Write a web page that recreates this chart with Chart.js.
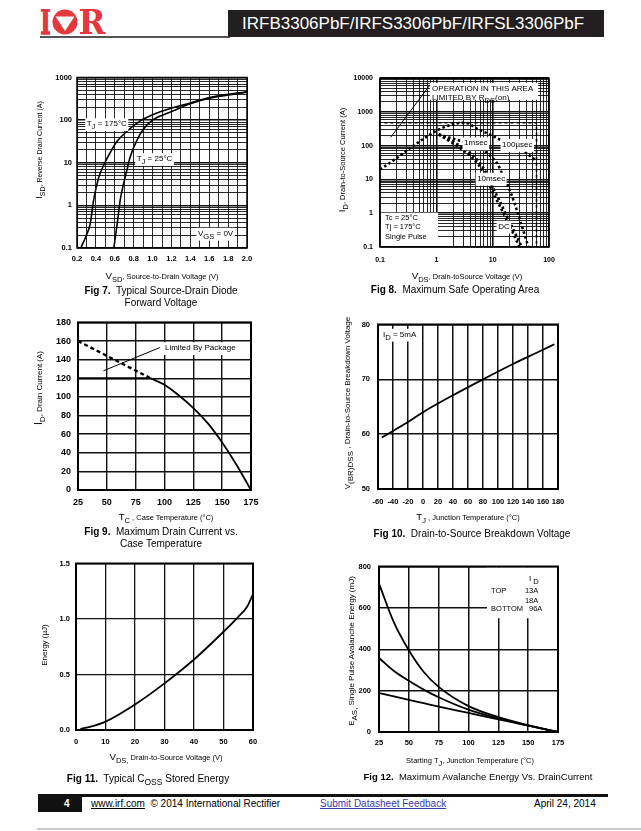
<!DOCTYPE html>
<html>
<head>
<meta charset="utf-8">
<script src="https://cdn.jsdelivr.net/npm/chart.js@4.4.1/dist/chart.umd.min.js"></script>
<style>
  body { margin: 0; width: 641px; height: 831px; position: relative; overflow: hidden; background: #fff;
         font-family: "Liberation Sans", Arial, sans-serif; color: #000; }
  .t { position: absolute; white-space: nowrap; line-height: 1; transform: translate(-50%, -50%); font-size: 7.5px; z-index: 2; }
  .r { transform: translate(-50%, -50%) rotate(-90deg); }
  .t sub { font-size: 1em; vertical-align: -0.35em; line-height: 0; }
  .big { font-size: 1.3em; }
  .cap { font-size: 10px; }
  canvas { position: absolute; z-index: 1; }
  .foot { position: absolute; top: 798px; font-size: 10px; white-space: nowrap; }
</style>
</head>
<body>

<!-- header -->
<svg style="position:absolute;left:40px;top:9px" width="66" height="26" viewBox="0 0 66 26">
  <text x="0.5" y="25" font-family="DejaVu Serif" font-weight="bold" font-size="34" fill="#e2383e" stroke="#e2383e" stroke-width="1.6" textLength="10" lengthAdjust="spacingAndGlyphs">I</text>
  <circle cx="25" cy="13" r="12.5" fill="#e2383e"/>
  <polygon points="15.5,7.5 34.5,7.5 25,22" fill="#fff"/>
  <text x="38.5" y="25" font-family="DejaVu Serif" font-weight="bold" font-size="34" fill="#e2383e" textLength="27" lengthAdjust="spacingAndGlyphs">R</text>
</svg>
<div style="position:absolute;left:40px;top:36px;width:190px;height:1.5px;background:#555"></div>
<div style="position:absolute;left:228px;top:10px;width:376px;height:27px;background:#231f20;color:#fff;font-size:17px;line-height:27px;padding-left:14px;box-sizing:border-box;white-space:nowrap">IRFB3306PbF/IRFS3306PbF/IRFSL3306PbF</div>

<!-- axis titles -->
<div class="t" style="left:162px;top:276px"><span class="big">V</span><sub>SD</sub>, Source-to-Drain Voltage (V)</div>
<div class="t r" style="left:40px;top:150px;font-size:7px"><span class="big">I</span><sub>SD</sub>, Reverse Drain Current (A)</div>
<div class="t" style="left:467px;top:276px"><span class="big">V</span><sub>DS</sub>, Drain-toSource Voltage (V)</div>
<div class="t r" style="left:342px;top:160px"><span class="big">I</span><sub>D</sub>, Drain-to-Source Current (A)</div>
<div class="t" style="left:166px;top:517px"><span class="big">T</span><sub>C</sub> , Case Temperature (°C)</div>
<div class="t r" style="left:39px;top:388px;font-size:8px"><span class="big">I</span><sub>D</sub>, Drain Current (A)</div>
<div class="t" style="left:468px;top:517px"><span class="big">T</span><sub>J</sub> , Junction Temperature (°C)</div>
<div class="t r" style="left:348px;top:403px;font-size:8px">V<sub>(BR)DSS</sub> , Drain-to-Source Breakdown Voltage</div>
<div class="t" style="left:166px;top:757px"><span class="big">V</span><sub>DS,</sub> Drain-to-Source Voltage (V)</div>
<div class="t r" style="left:45px;top:645px;font-size:8px">Energy (µJ)</div>
<div class="t" style="left:470px;top:761px">Starting T<sub>J</sub>, Junction Temperature (°C)</div>
<div class="t r" style="left:352px;top:651px;font-size:8px">E<sub>AS,</sub> Single Pulse Avalanche Energy (mJ)</div>

<!-- captions -->
<div class="t cap" style="left:161px;top:291px"><b>Fig 7.</b>&nbsp; Typical Source-Drain Diode</div>
<div class="t cap" style="left:161px;top:303px">Forward Voltage</div>
<div class="t cap" style="left:455px;top:290px"><b>Fig 8.</b>&nbsp; Maximum Safe Operating Area</div>
<div class="t cap" style="left:161px;top:532px"><b>Fig 9.</b>&nbsp; Maximum Drain Current vs.</div>
<div class="t cap" style="left:161px;top:544px">Case Temperature</div>
<div class="t cap" style="left:472px;top:534px"><b>Fig 10.</b>&nbsp; Drain-to-Source Breakdown Voltage</div>
<div class="t cap" style="left:148px;top:779px"><b>Fig 11.</b>&nbsp; Typical C<sub style="font-size:0.85em">OSS</sub> Stored Energy</div>
<div class="t cap" style="left:478px;top:777px;font-size:9.5px"><b>Fig 12.</b>&nbsp; Maximum Avalanche Energy Vs. DrainCurrent</div>

<!-- footer -->
<div style="position:absolute;left:38px;top:794px;width:570px;height:3px;background:#111"></div>
<div style="position:absolute;left:38px;top:794px;width:44px;height:18px;background:#111"></div>
<div class="foot" style="left:64px;color:#fff;font-weight:bold">4</div>
<div class="foot" style="left:91px"><u>www.irf.com</u> &nbsp;© 2014 International Rectifier</div>
<div class="foot" style="left:320px;color:#3a3aa8"><u>Submit Datasheet Feedback</u></div>
<div class="foot" style="left:534px">April 24, 2014</div>
<div style="position:absolute;left:37px;top:828px;width:604px;height:2px;background:#c8c8c8"></div>

<script>
// ---- Fig 7: source-drain diode forward voltage ----
const fig7XLabels = [0.2, 0.4, 0.6, 0.8, 1.0, 1.2, 1.4, 1.6, 1.8, 2.0];
const fig7YLabels = [0.1, 1, 10, 100, 1000];
const vsd175 = [0.24, 0.30, 0.34, 0.375, 0.43, 0.49, 0.55, 0.62, 0.73, 0.87, 1.04, 1.39, 1.64, 2.0];
const isd175 = [0.1, 0.2, 0.37, 1.28, 4.5, 9.5, 17, 31, 55, 96, 145, 250, 355, 465];
const vsd25 = [0.59, 0.63, 0.656, 0.69, 0.726, 0.76, 0.83, 0.90, 1.0, 1.22, 1.39, 1.64, 2.0];
const isd25 = [0.1, 0.44, 1.28, 3, 6.4, 13, 32, 60, 100, 165, 240, 340, 450];

// ---- Fig 8: safe operating area ----
const fig8XLabels = [0.1, 1, 10, 100];
const fig8YLabels = [0.1, 1, 10, 100, 1000, 10000];
const rdsLimitV = [0.155, 0.78];
const rdsLimitI = [178, 6500];
const pkgLimitV = [0.12, 60, 60];
const pkgLimitI = [480, 480, 0.1];
const soa100usV = [0.1, 2.3, 3.2, 5.5, 11, 16, 36, 60];
const soa100usI = [20, 460, 475, 310, 180, 130, 68, 35];
const soa1msV = [1.1, 2, 4, 6, 8.3, 12, 16, 21, 28, 43];
const soa1msI = [220, 160, 115, 85, 57, 30, 11, 4, 1, 0.1];
const soa10msV = [1.1, 2.1, 4, 5.5, 7.5, 9.5, 13, 18, 33];
const soa10msI = [220, 125, 60, 36, 17, 7, 2.5, 0.8, 0.1];
const soaDcV = [1.1, 2.1, 4, 5.5, 7.5, 9.5, 13, 18, 30];
const soaDcI = [215, 110, 50, 28, 13, 5, 1.8, 0.6, 0.1];

// ---- Fig 9: drain current vs case temperature ----
const fig9XLabels = [25, 50, 75, 100, 125, 150, 175];
const fig9YLabels = [0, 20, 40, 60, 80, 100, 120, 140, 160, 180];
const tcCurve = [88, 100, 112, 125, 138, 150, 162, 175];
const idCurve = [120, 113, 102, 88, 71, 51, 28, 0];
const tcPkg = [25, 88];
const idPkg = [120, 120];
const tcSilicon = [25, 88];
const idSilicon = [160, 120];
const pkgNoteX = [47, 96];
const pkgNoteY = [128, 153];

// ---- Fig 10: breakdown voltage ----
const fig10XLabels = [-60, -40, -20, 0, 20, 40, 60, 80, 100, 120, 140, 160, 180];
const fig10YLabels = [50, 60, 70, 80];
const tjBv = [-55, -20, 0, 40, 80, 120, 160, 175];
const bvdss = [59.4, 62.2, 64.0, 67.1, 70.0, 72.8, 75.4, 76.4];

// ---- Fig 11: Coss stored energy ----
const fig11XLabels = [0, 10, 20, 30, 40, 50, 60];
const fig11YLabels = [0, 0.5, 1.0, 1.5];
const vdsEoss = [1.5, 5, 10, 20, 30, 40, 50, 55, 58, 60];
const eoss = [0.01, 0.03, 0.075, 0.23, 0.42, 0.635, 0.885, 1.02, 1.11, 1.225];

// ---- Fig 12: avalanche energy ----
const fig12XLabels = [25, 50, 75, 100, 125, 150, 175];
const fig12YLabels = [0, 200, 400, 600, 800];
const tjEas = [25, 37.5, 50, 62.5, 75, 100, 125, 150, 175];
const eas13A = [717, 530, 395, 290, 218, 125, 72, 33, 0];
const eas18A = [358, 295, 248, 205, 168, 108, 66, 31, 0];
const eas96A = [188, 172, 155, 139, 123, 92, 61, 31, 0];

const FONT = '"Liberation Sans", Arial, sans-serif';
Chart.defaults.font.family = FONT;
Chart.defaults.color = '#000';

const pts = (xs, ys) => xs.map((x, i) => ({ x, y: ys[i] }));

function logGrid(decades) {
    const out = [];
    for (let d = 0; d < decades.length - 1; d++) {
        for (let k = 1; k < 10; k++) out.push(Number((k * decades[d]).toPrecision(6)));
    }
    out.push(decades[decades.length - 1]);
    return out;
}

const isDecade = v => Math.abs(Math.log10(v) - Math.round(Math.log10(v))) < 1e-6;

// draws text with subscript parts: [['T',''],['J','sub'],...]
function drawRich(ctx, x, y, parts, size, bg, bold) {
    const fontFor = m => (bold ? 'bold ' : '') + (m === 'sub' ? size * 0.95 : size) + 'px ' + FONT;
    const widths = parts.map(([t, m]) => { ctx.font = fontFor(m); return ctx.measureText(t).width; });
    const total = widths.reduce((a, b) => a + b, 0);
    if (bg) {
        ctx.fillStyle = '#fff';
        ctx.fillRect(x - 1.5, y - size * 0.7, total + 3, size * 1.6);
    }
    ctx.fillStyle = '#000';
    ctx.textBaseline = 'middle';
    ctx.textAlign = 'left';
    let cx = x;
    parts.forEach(([t, m], i) => {
        ctx.font = fontFor(m);
        ctx.fillText(t, cx, y + (m === 'sub' ? size * 0.4 : 0));
        cx += widths[i];
    });
}

const notesPlugin = {
    id: 'notes',
    afterDatasetsDraw(chart, args, opts) {
        const { ctx, chartArea: a } = chart;
        const sx = chart.scales.x, sy = chart.scales.y;
        ctx.save();
        (opts.boxes || []).forEach(b => {
            const x0 = Math.max(sx.getPixelForValue(b.x0), a.left + 1);
            const x1 = Math.min(sx.getPixelForValue(b.x1), a.right - 1);
            const y0 = Math.min(sy.getPixelForValue(b.y0), a.bottom - 1);
            const y1 = Math.max(sy.getPixelForValue(b.y1), a.top + 1);
            ctx.fillStyle = '#fff';
            ctx.fillRect(x0, y1, x1 - x0, y0 - y1);
        });
        (opts.items || []).forEach(it => {
            drawRich(ctx, sx.getPixelForValue(it.x), sy.getPixelForValue(it.y), it.parts, it.size || 8, it.bg, it.bold);
        });
        ctx.strokeStyle = '#000';
        ctx.lineWidth = opts.frame || 1.5;
        ctx.strokeRect(a.left, a.top, a.width, a.height);
        ctx.restore();
    }
};
Chart.register(notesPlugin);

function axis(type, gridVals, labelVals, fmt, tick, gridWidth) {
    return {
        type: type,
        min: gridVals[0],
        max: gridVals[gridVals.length - 1],
        afterBuildTicks: s => { s.ticks = gridVals.map(v => ({ value: v })); },
        grid: { color: '#111', lineWidth: gridWidth, drawTicks: false },
        border: { display: false },
        ticks: {
            autoSkip: false, maxRotation: 0, minRotation: 0,
            padding: tick.pad, color: '#000',
            font: { size: tick.size, weight: 'bold' },
            callback: v => labelVals.some(l => Math.abs(l - v) < 1e-6) ? fmt(v) : ''
        }
    };
}

function line(xs, ys, extra) {
    return Object.assign({
        data: pts(xs, ys), showLine: true, pointRadius: 0, borderColor: '#000',
        borderWidth: 1.6, fill: false, cubicInterpolationMode: 'monotone'
    }, extra || {});
}

function makeChart(plot, datasets, xScale, yScale, notes) {
    const [L, T, R, B] = plot;
    const yw = 40, xh = 24, pt = 8, pr = 16;
    const w = yw + (R - L) + pr, h = pt + (B - T) + xh;
    const cv = document.createElement('canvas');
    cv.width = w;
    cv.height = h;
    cv.style.left = (L - yw) + 'px';
    cv.style.top = (T - pt) + 'px';
    document.body.appendChild(cv);
    xScale.afterFit = s => { s.height = xh; };
    yScale.afterFit = s => { s.width = yw; };
    new Chart(cv, {
        type: 'scatter',
        data: { datasets },
        options: {
            responsive: false, animation: false, devicePixelRatio: 1,
            layout: { padding: { top: pt, right: pr, left: 0, bottom: 0 } },
            plugins: { legend: { display: false }, tooltip: { enabled: false }, notes: notes },
            scales: { x: xScale, y: yScale }
        }
    });
}

const logWidth = c => (c.tick && isDecade(c.tick.value)) ? 1.6 : 0.9;

// Fig 7
const fig7XGrid = [];
for (let k = 2; k <= 20; k++) fig7XGrid.push(k / 10);
makeChart([77, 76, 247, 248], [
    line(vsd175, isd175),
    line(vsd25, isd25)
],
    axis('linear', fig7XGrid, fig7XLabels, v => v.toFixed(1), { size: 7.5, pad: 6.3 }, 0.9),
    axis('logarithmic', logGrid(fig7YLabels), fig7YLabels, v => String(v), { size: 7.5, pad: 5 }, logWidth),
    {
        frame: 1.5,
        items: [
            { x: 0.303, y: 82, parts: [['T', ''], ['J', 'sub'], [' = 175°C', '']], size: 8, bg: true },
            { x: 0.832, y: 12.4, parts: [['T', ''], ['J', 'sub'], [' = 25°C', '']], size: 8, bg: true },
            { x: 1.481, y: 0.22, parts: [['V', ''], ['GS', 'sub'], [' = 0V', '']], size: 8, bg: true }
        ]
    });

// Fig 8
const soaDash = { borderWidth: 2.6, borderDash: [2.5, 2.5] };
makeChart([380, 75, 549, 247], [
    line(rdsLimitV, rdsLimitI, { borderWidth: 1, cubicInterpolationMode: 'default' }),
    line(pkgLimitV, pkgLimitI, { borderWidth: 1.6, borderDash: [3, 3], cubicInterpolationMode: 'default' }),
    line(soa100usV, soa100usI, soaDash),
    line(soa1msV, soa1msI, soaDash),
    line(soa10msV, soa10msI, soaDash),
    line(soaDcV, soaDcI, soaDash)
],
    axis('logarithmic', logGrid(fig8XLabels), fig8XLabels, v => String(v), { size: 7, pad: 8.5 }, logWidth),
    axis('logarithmic', logGrid(fig8YLabels), fig8YLabels, v => String(v), { size: 7, pad: 7 }, logWidth),
    {
        frame: 1.5,
        boxes: [
            { x0: 0.77, x1: 64, y0: 2290, y1: 7300 },
            { x0: 0.1, x1: 1.07, y0: 0.1, y1: 1.04 }
        ],
        items: [
            { x: 0.84, y: 5020, parts: [['OPERATION IN THIS AREA', '']], size: 8 },
            { x: 0.84, y: 2700, parts: [['LIMITED BY R', ''], ['DS', 'sub'], ['(on)', '']], size: 8 },
            { x: 0.123, y: 0.71, parts: [['Tc = 25°C', '']], size: 7.5 },
            { x: 0.123, y: 0.38, parts: [['Tj = 175°C', '']], size: 7.5 },
            { x: 0.123, y: 0.205, parts: [['Single Pulse', '']], size: 7.5 },
            { x: 3.1, y: 120, parts: [['1msec', '']], size: 8, bg: true },
            { x: 14.7, y: 108, parts: [['100µsec', '']], size: 8, bg: true },
            { x: 5.3, y: 10.8, parts: [['10msec', '']], size: 8, bg: true },
            { x: 12.5, y: 0.41, parts: [['DC', '']], size: 8, bg: true }
        ]
    });

// Fig 9
makeChart([78, 318, 251, 490], [
    line(tcCurve, idCurve, { borderWidth: 1.8 }),
    line(tcPkg, idPkg, { borderWidth: 2.2, cubicInterpolationMode: 'default' }),
    line(tcSilicon, idSilicon, { borderWidth: 2.4, borderDash: [4, 3], cubicInterpolationMode: 'default' }),
    line(pkgNoteX, pkgNoteY, { borderWidth: 1, cubicInterpolationMode: 'default' })
],
    axis('linear', fig9XLabels, fig9XLabels, v => String(v), { size: 9, pad: 7 }, 1.4),
    axis('linear', fig9YLabels, fig9YLabels, v => String(v), { size: 9, pad: 7 }, 1.4),
    {
        frame: 2,
        items: [
            { x: 100.4, y: 152.8, parts: [['Limited By Package', '']], size: 8, bg: true }
        ]
    });

// Fig 10
makeChart([378, 320, 558, 489], [
    line(tjBv, bvdss, { borderWidth: 1.8 })
],
    axis('linear', fig10XLabels, fig10XLabels, v => String(v), { size: 7.5, pad: 8 }, 1.5),
    axis('linear', fig10YLabels, fig10YLabels, v => String(v), { size: 7.5, pad: 8 }, 1.5),
    {
        frame: 2,
        items: [
            { x: -53.3, y: 78.2, parts: [['I', ''], ['D', 'sub'], [' = 5mA', '']], size: 8, bg: true }
        ]
    });

// Fig 11
makeChart([76, 561, 253, 730], [
    line(vdsEoss, eoss, { borderWidth: 1.8 })
],
    axis('linear', fig11XLabels, fig11XLabels, v => String(v), { size: 7.5, pad: 7 }, 1.3),
    axis('linear', fig11YLabels, fig11YLabels, v => v.toFixed(1), { size: 7.5, pad: 6 }, 1.3),
    { frame: 2 });

// Fig 12
makeChart([379, 562, 558, 732], [
    line(tjEas, eas13A, { borderWidth: 1.8 }),
    line(tjEas, eas18A, { borderWidth: 1.8 }),
    line(tjEas, eas96A, { borderWidth: 1.8 })
],
    axis('linear', fig12XLabels, fig12XLabels, v => String(v), { size: 7.5, pad: 6.5 }, 1.5),
    axis('linear', fig12YLabels, fig12YLabels, v => String(v), { size: 7.5, pad: 8 }, 1.5),
    {
        frame: 2,
        boxes: [{ x0: 115.5, x1: 175, y0: 550, y1: 800 }],
        items: [
            { x: 150.7, y: 739, parts: [['I', ''], [' D', 'sub']], size: 8 },
            { x: 118.9, y: 682, parts: [['TOP', '']], size: 7.5 },
            { x: 147.3, y: 682, parts: [['13A', '']], size: 7.5 },
            { x: 147.3, y: 635, parts: [['18A', '']], size: 7.5 },
            { x: 118.9, y: 593, parts: [['BOTTOM', '']], size: 7.5 },
            { x: 150.7, y: 593, parts: [['96A', '']], size: 7.5 }
        ]
    });
</script>
</body>
</html>
